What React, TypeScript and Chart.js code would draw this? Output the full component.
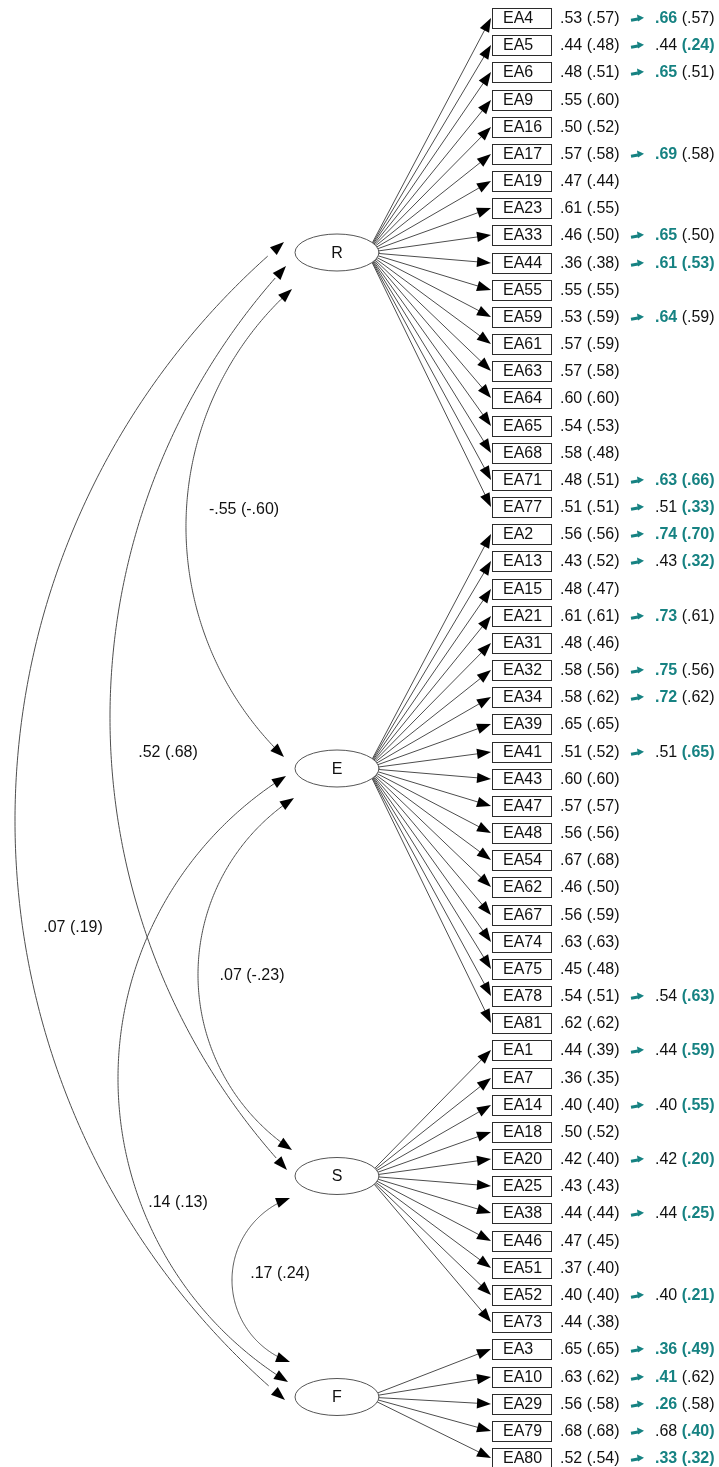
import { useEffect, useRef } from "react";
import { Chart, registerables } from "chart.js";

Chart.register(...registerables);

const W = 719;
const H = 1467;

// ---- Measurement model: items per factor, standardized loadings ----
const factorNames = ["R", "E", "S", "F"];

const itemsR = ["EA4", "EA5", "EA6", "EA9", "EA16", "EA17", "EA19", "EA23", "EA33", "EA44", "EA55", "EA59", "EA61", "EA63", "EA64", "EA65", "EA68", "EA71", "EA77"];
const estR = [0.53, 0.44, 0.48, 0.55, 0.5, 0.57, 0.47, 0.61, 0.46, 0.36, 0.55, 0.53, 0.57, 0.57, 0.6, 0.54, 0.58, 0.48, 0.51];
const estParR = [0.57, 0.48, 0.51, 0.6, 0.52, 0.58, 0.44, 0.55, 0.5, 0.38, 0.55, 0.59, 0.59, 0.58, 0.6, 0.53, 0.48, 0.51, 0.51];
const revR = [0.66, 0.44, 0.65, null, null, 0.69, null, null, 0.65, 0.61, null, 0.64, null, null, null, null, null, 0.63, 0.51];
const revParR = [0.57, 0.24, 0.51, null, null, 0.58, null, null, 0.5, 0.53, null, 0.59, null, null, null, null, null, 0.66, 0.33];

const itemsE = ["EA2", "EA13", "EA15", "EA21", "EA31", "EA32", "EA34", "EA39", "EA41", "EA43", "EA47", "EA48", "EA54", "EA62", "EA67", "EA74", "EA75", "EA78", "EA81"];
const estE = [0.56, 0.43, 0.48, 0.61, 0.48, 0.58, 0.58, 0.65, 0.51, 0.6, 0.57, 0.56, 0.67, 0.46, 0.56, 0.63, 0.45, 0.54, 0.62];
const estParE = [0.56, 0.52, 0.47, 0.61, 0.46, 0.56, 0.62, 0.65, 0.52, 0.6, 0.57, 0.56, 0.68, 0.5, 0.59, 0.63, 0.48, 0.51, 0.62];
const revE = [0.74, 0.43, null, 0.73, null, 0.75, 0.72, null, 0.51, null, null, null, null, null, null, null, null, 0.54, null];
const revParE = [0.7, 0.32, null, 0.61, null, 0.56, 0.62, null, 0.65, null, null, null, null, null, null, null, null, 0.63, null];

const itemsS = ["EA1", "EA7", "EA14", "EA18", "EA20", "EA25", "EA38", "EA46", "EA51", "EA52", "EA73"];
const estS = [0.44, 0.36, 0.4, 0.5, 0.42, 0.43, 0.44, 0.47, 0.37, 0.4, 0.44];
const estParS = [0.39, 0.35, 0.4, 0.52, 0.4, 0.43, 0.44, 0.45, 0.4, 0.4, 0.38];
const revS = [0.44, null, 0.4, null, 0.42, null, 0.44, null, null, 0.4, null];
const revParS = [0.59, null, 0.55, null, 0.2, null, 0.25, null, null, 0.21, null];

const itemsF = ["EA3", "EA10", "EA29", "EA79", "EA80"];
const estF = [0.65, 0.63, 0.56, 0.68, 0.52];
const estParF = [0.65, 0.62, 0.58, 0.68, 0.54];
const revF = [0.36, 0.41, 0.26, 0.68, 0.33];
const revParF = [0.49, 0.62, 0.58, 0.4, 0.32];

// ---- Factor correlations ----
const covFrom = ["R", "R", "R", "E", "E", "S"];
const covTo = ["E", "S", "F", "S", "F", "F"];
const covEst = [-0.55, 0.52, 0.07, 0.07, 0.14, 0.17];
const covEstPar = [-0.6, 0.68, 0.19, -0.23, 0.13, 0.24];

// ---- Layout (diagram units) ----
const ROW_TOP = 18;
const ROW_STEP = 27.17;
const BOX_X0 = 492;
const BOX_X1 = 551;
const BOX_H = 20;
const NAME_X = 503;
const EST_X = 560;
const MARK_X = 631;
const REV_X = 655;
const FACTOR_X = 337;
const FACTOR_Y = [252.5, 768.5, 1176, 1397];
const FACTOR_RX = 42;
const FACTOR_RY = 18.5;

// covariance arc anchors: start tip, end tip, leftmost x, label centre
const covStart = [[292, 289], [286, 266], [284, 242], [294, 798], [286, 776], [290, 1198]];
const covEnd = [[284, 757], [287, 1170], [285, 1400], [292, 1150], [288, 1382], [290, 1362]];
const covApexX = [186, 110, 15, 198, 118, 232];
const covLabel = [[244, 510], [168, 753], [73, 928], [252, 976], [178, 1203], [280, 1274]];

const TEAL = "#168282";
const FONT = "'Liberation Sans', Arial, sans-serif";

const groups = [
  { items: itemsR, est: estR, estPar: estParR, rev: revR, revPar: revParR },
  { items: itemsE, est: estE, estPar: estParE, rev: revE, revPar: revParE },
  { items: itemsS, est: estS, estPar: estParS, rev: revS, revPar: revParS },
  { items: itemsF, est: estF, estPar: estParF, rev: revF, revPar: revParF },
];

const fmt = (v: number) => (v < 0 ? "-" : "") + Math.abs(v).toFixed(2).slice(1);

function arrowHead(ctx: CanvasRenderingContext2D, tx: number, ty: number, dx: number, dy: number, len = 14, half = 5.2) {
  const n = Math.hypot(dx, dy);
  const ux = dx / n;
  const uy = dy / n;
  const bx = tx - ux * len;
  const by = ty - uy * len;
  ctx.beginPath();
  ctx.moveTo(tx, ty);
  ctx.lineTo(bx - uy * half, by + ux * half);
  ctx.lineTo(bx + uy * half, by - ux * half);
  ctx.closePath();
  ctx.fill();
}

function circleThrough(p1: number[], p2: number[], p3: number[]) {
  const [ax, ay] = p1;
  const [bx, by] = p2;
  const [cx, cy] = p3;
  const d = 2 * (ax * (by - cy) + bx * (cy - ay) + cx * (ay - by));
  const ux = ((ax * ax + ay * ay) * (by - cy) + (bx * bx + by * by) * (cy - ay) + (cx * cx + cy * cy) * (ay - by)) / d;
  const uy = ((ax * ax + ay * ay) * (cx - bx) + (bx * bx + by * by) * (ax - cx) + (cx * cx + cy * cy) * (bx - ax)) / d;
  return { x: ux, y: uy, r: Math.hypot(ax - ux, ay - uy) };
}

const TAU = Math.PI * 2;
const mod = (a: number) => ((a % TAU) + TAU) % TAU;

const diagramPlugin = {
  id: "semDiagram",
  afterDatasetsDraw(chart: any) {
    const { ctx } = chart;
    const xs = chart.scales.x;
    const ys = chart.scales.y;
    const px = (v: number) => xs.getPixelForValue(v);
    const py = (v: number) => ys.getPixelForValue(v);

    ctx.save();
    ctx.lineCap = "round";

    // item rows
    let row = 0;
    groups.forEach((g, gi) => {
      const ecx = px(FACTOR_X);
      const ecy = py(FACTOR_Y[gi]);
      const rx = px(FACTOR_X + FACTOR_RX) - ecx;
      const ry = Math.abs(py(FACTOR_Y[gi] + FACTOR_RY) - ecy);
      g.items.forEach((name, i) => {
        const yv = ROW_TOP + row * ROW_STEP;
        const y = Math.round(py(yv));
        // path from the factor to the indicator
        const tx = px(BOX_X0) - 1;
        const ox = ecx + rx * 0.72;
        const oy = ecy;
        const dx = tx - ox;
        const dy = y - oy;
        const a = (dx / rx) ** 2 + (dy / ry) ** 2;
        const b = 2 * (((ox - ecx) * dx) / (rx * rx) + ((oy - ecy) * dy) / (ry * ry));
        const c = ((ox - ecx) / rx) ** 2 + ((oy - ecy) / ry) ** 2 - 1;
        const t = (-b + Math.sqrt(b * b - 4 * a * c)) / (2 * a);
        const sx = ox + dx * t;
        const sy = oy + dy * t;
        const len = Math.hypot(dx, dy);
        ctx.strokeStyle = "#4d4d4d";
        ctx.lineWidth = 1;
        ctx.beginPath();
        ctx.moveTo(sx, sy);
        ctx.lineTo(tx - (dx / len) * 8, y - (dy / len) * 8);
        ctx.stroke();
        ctx.fillStyle = "#000";
        arrowHead(ctx, tx, y, dx, dy);

        // indicator box
        ctx.strokeStyle = "#2b2b2b";
        ctx.lineWidth = 1;
        const bx0 = Math.round(px(BOX_X0)) + 0.5;
        const bx1 = Math.round(px(BOX_X1)) + 0.5;
        ctx.strokeRect(bx0, y - BOX_H / 2 + 0.5, bx1 - bx0, BOX_H);

        ctx.textBaseline = "middle";
        ctx.textAlign = "left";
        ctx.fillStyle = "#111";
        ctx.font = `16px ${FONT}`;
        ctx.fillText(name, px(NAME_X), y + 1);
        ctx.fillText(`${fmt(g.est[i])} (${fmt(g.estPar[i])})`, px(EST_X), y + 1);

        const rv = g.rev[i];
        const rp = g.revPar[i];
        if (rv !== null && rp !== null) {
          // change marker
          const mx = px(MARK_X);
          ctx.strokeStyle = TEAL;
          ctx.fillStyle = TEAL;
          ctx.lineWidth = 3;
          ctx.lineCap = "butt";
          ctx.beginPath();
          ctx.moveTo(mx, y + 2.2);
          ctx.lineTo(mx + 7, y + 1);
          ctx.stroke();
          ctx.beginPath();
          ctx.moveTo(mx + 13, y - 0.2);
          ctx.lineTo(mx + 6, y - 3.6);
          ctx.lineTo(mx + 7, y + 3.4);
          ctx.closePath();
          ctx.fill();
          ctx.lineCap = "round";

          let x = px(REV_X);
          const b1 = rv !== g.est[i];
          const b2 = rp !== g.estPar[i];
          const s1 = fmt(rv);
          ctx.font = `${b1 ? "bold " : ""}16px ${FONT}`;
          ctx.fillStyle = b1 ? TEAL : "#111";
          ctx.fillText(s1, x, y + 1);
          x += ctx.measureText(s1).width;
          ctx.font = `16px ${FONT}`;
          x += ctx.measureText(" ").width;
          const s2 = `(${fmt(rp)})`;
          ctx.font = `${b2 ? "bold " : ""}16px ${FONT}`;
          ctx.fillStyle = b2 ? TEAL : "#111";
          ctx.fillText(s2, x, y + 1);
        }
        row++;
      });
    });

    // factor ellipses
    factorNames.forEach((f, gi) => {
      const ecx = px(FACTOR_X);
      const ecy = py(FACTOR_Y[gi]);
      const rx = px(FACTOR_X + FACTOR_RX) - ecx;
      const ry = Math.abs(py(FACTOR_Y[gi] + FACTOR_RY) - ecy);
      ctx.beginPath();
      ctx.ellipse(ecx, ecy, rx, ry, 0, 0, TAU);
      ctx.fillStyle = "#fff";
      ctx.fill();
      ctx.strokeStyle = "#555";
      ctx.lineWidth = 1;
      ctx.stroke();
      ctx.fillStyle = "#111";
      ctx.font = `16px ${FONT}`;
      ctx.textAlign = "center";
      ctx.textBaseline = "middle";
      ctx.fillText(f, ecx, ecy + 1);
    });

    // factor correlations as double-headed arcs
    covEst.forEach((v, k) => {
      const p1 = [px(covStart[k][0]), py(covStart[k][1])];
      const p2 = [px(covEnd[k][0]), py(covEnd[k][1])];
      const pa = [px(covApexX[k]), (p1[1] + p2[1]) / 2];
      const c = circleThrough(p1, p2, pa);
      const a1 = Math.atan2(p1[1] - c.y, p1[0] - c.x);
      const a2 = Math.atan2(p2[1] - c.y, p2[0] - c.x);
      const aa = Math.atan2(pa[1] - c.y, pa[0] - c.x);
      const d12 = mod(a2 - a1);
      const d1a = mod(aa - a1);
      const sweep = d1a < d12 ? d12 : -(TAU - d12);
      const n = 240;
      const pts: number[][] = [];
      for (let s = 0; s <= n; s++) {
        const ang = a1 + (sweep * s) / n;
        pts.push([c.x + c.r * Math.cos(ang), c.y + c.r * Math.sin(ang)]);
      }
      ctx.strokeStyle = "#4d4d4d";
      ctx.lineWidth = 1;
      ctx.beginPath();
      ctx.moveTo(pts[4][0], pts[4][1]);
      for (let s = 5; s <= n - 4; s++) ctx.lineTo(pts[s][0], pts[s][1]);
      ctx.stroke();
      ctx.fillStyle = "#000";
      arrowHead(ctx, p1[0], p1[1], pts[0][0] - pts[3][0], pts[0][1] - pts[3][1]);
      arrowHead(ctx, p2[0], p2[1], pts[n][0] - pts[n - 3][0], pts[n][1] - pts[n - 3][1]);

      ctx.fillStyle = "#111";
      ctx.font = `16px ${FONT}`;
      ctx.textAlign = "center";
      ctx.textBaseline = "middle";
      ctx.fillText(`${fmt(v)} (${fmt(covEstPar[k])})`, px(covLabel[k][0]), py(covLabel[k][1]));
    });

    ctx.restore();
  },
};

// anchor points of the indicator boxes (invisible; they keep the scales tied to the layout)
const anchors = groups
  .flatMap((g) => g.items)
  .map((_, i) => ({ x: BOX_X0, y: ROW_TOP + i * ROW_STEP }));

export default function App() {
  const ref = useRef<HTMLCanvasElement>(null);
  useEffect(() => {
    document.body.style.margin = "0";
    const chart = new Chart(ref.current as HTMLCanvasElement, {
      type: "scatter",
      data: { datasets: [{ data: anchors, pointRadius: 0, showLine: false }] },
      options: {
        responsive: false,
        animation: false,
        devicePixelRatio: 1,
        events: [],
        layout: { padding: 0 },
        plugins: { legend: { display: false }, tooltip: { enabled: false } },
        scales: {
          x: { type: "linear", min: 0, max: W, display: false },
          y: { type: "linear", min: 0, max: H, reverse: true, display: false },
        },
      },
      plugins: [diagramPlugin],
    } as any);
    return () => chart.destroy();
  }, []);
  return <canvas ref={ref} width={W} height={H} style={{ display: "block" }} />;
}
